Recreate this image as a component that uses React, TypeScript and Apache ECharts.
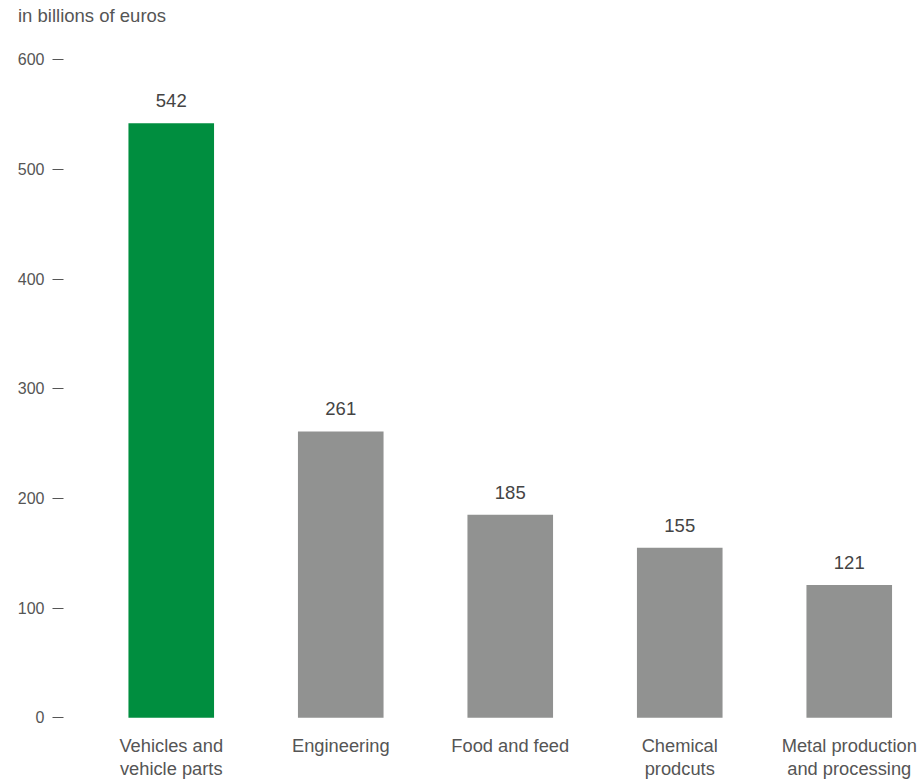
import React, { useEffect, useRef } from "react";
import * as echarts from "echarts";

const categories = [
  "Vehicles and\nvehicle parts",
  "Engineering",
  "Food and feed",
  "Chemical\nprodcuts",
  "Metal production\nand processing",
];
const values = [542, 261, 185, 155, 121];
const highlightIndex = 0;
const yTicks = [0, 100, 200, 300, 400, 500, 600];

const GREEN = "#008e3f";
const GRAY = "#919291";
const TEXT = "#555555";
const FONT = "Liberation Sans, Arial, sans-serif";

export default function App() {
  const ref = useRef<HTMLDivElement>(null);
  useEffect(() => {
    if (!ref.current) return;
    const chart = echarts.init(ref.current, null, { renderer: "svg" });
    chart.setOption({
      animation: false,
      backgroundColor: "#ffffff",
      title: {
        text: "in billions of euros",
        left: 13,
        top: 1,
        textStyle: { color: TEXT, fontSize: 18.5, fontWeight: "normal", fontFamily: FONT },
      },
      grid: { left: 86.5, top: 59.7, width: 847.5, height: 658 },
      xAxis: {
        type: "category",
        data: categories,
        axisLine: { show: false },
        axisTick: { show: false },
        axisLabel: {
          color: TEXT,
          fontSize: 18.3,
          fontFamily: FONT,
          lineHeight: 23,
          margin: 16,
          interval: 0,
        },
      },
      yAxis: {
        type: "value",
        min: yTicks[0],
        max: yTicks[yTicks.length - 1],
        interval: 100,
        offset: 23,
        splitLine: { show: false },
        axisLine: { show: false },
        axisTick: { show: true, length: 11, inside: false, lineStyle: { color: "#555555", width: 1 } },
        axisLabel: { color: TEXT, fontSize: 16, fontFamily: FONT, margin: 19 },
      },
      series: [
        {
          type: "bar",
          barWidth: "50.5%",
          data: values.map((v, i) => ({
            value: v,
            itemStyle: { color: i === highlightIndex ? GREEN : GRAY },
          })),
          label: {
            show: true,
            position: "top",
            distance: 13,
            color: "#444444",
            fontSize: 18.5,
            fontFamily: FONT,
          },
        },
      ],
    });
    return () => chart.dispose();
  }, []);
  return (
    <div
      style={{ position: "fixed", left: 0, top: 0, width: 920, height: 783, overflow: "hidden", background: "#fff" }}
    >
      <div ref={ref} style={{ width: 940, height: 783 }} />
    </div>
  );
}
